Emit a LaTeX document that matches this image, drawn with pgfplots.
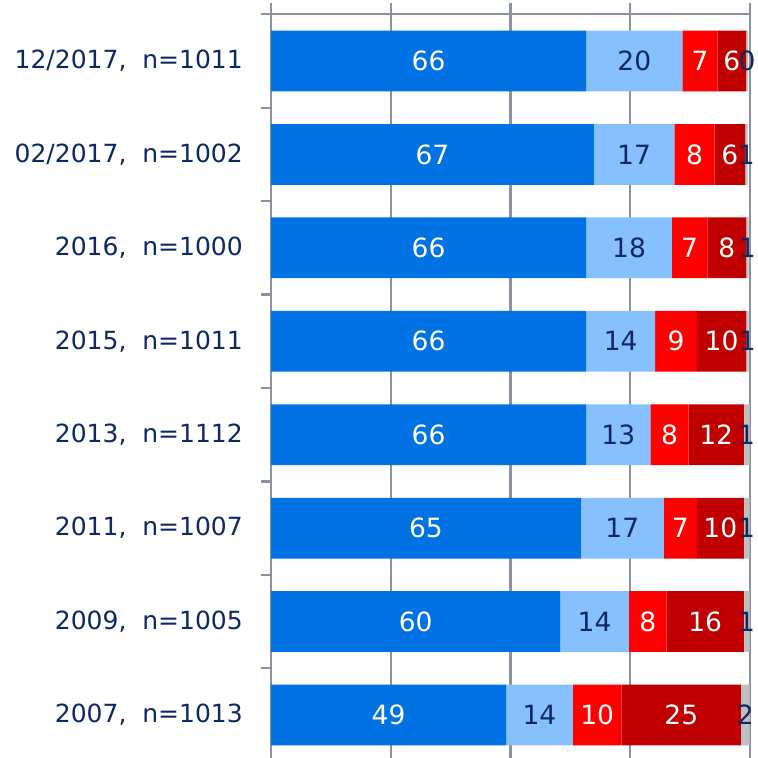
\documentclass[border=0pt]{standalone}
\usepackage{pgfplots}
\pgfplotsset{compat=1.18}
\usepackage{pgfplotstable}
\usepackage{fontspec}
\setmainfont{DejaVu Sans}
\definecolor{cBlue}{RGB}{0,114,227}
\definecolor{cLight}{RGB}{135,192,255}
\definecolor{cRed}{RGB}{255,0,0}
\definecolor{cDark}{RGB}{192,0,0}
\definecolor{cGray}{RGB}{191,191,191}
\definecolor{navy}{RGB}{14,40,100}
\definecolor{gridc}{RGB}{140,146,160}
\pgfplotstableread{
y a la b lb c lc d ld e le
7 65.8 66 20.1 20 7.3 7 6.0 6 0.4 0
6 67.4 67 16.8 17 8.4 8 6.4 6 0.5 1
5 65.8 66 17.9 18 7.4 7 8.1 8 0.5 1
4 65.8 66 14.4 14 8.7 9 10.3 10 0.5 1
3 65.8 66 13.4 13 8.0 8 11.5 12 1.2 1
2 64.7 65 17.3 17 6.9 7 9.8 10 1.2 1
1 60.4 60 14.3 14 7.9 8 16.1 16 1.2 1
0 49.1 49 13.9 14 10.2 10 24.9 25 1.8 2
}\data
\pgfplotstablecreatecol[create col/expr={\thisrow{a}/2}]{ca}\data
\pgfplotstablecreatecol[create col/expr={\thisrow{a}+\thisrow{b}/2}]{cb}\data
\pgfplotstablecreatecol[create col/expr={\thisrow{a}+\thisrow{b}+\thisrow{c}/2}]{cc}\data
\pgfplotstablecreatecol[create col/expr={\thisrow{a}+\thisrow{b}+\thisrow{c}+\thisrow{d}/2}]{cd}\data
\pgfplotstablecreatecol[create col/expr={\thisrow{a}+\thisrow{b}+\thisrow{c}+\thisrow{d}+\thisrow{e}/2}]{ce}\data
\pgfplotsset{
  common/.style={
    at={(271bp,-3.7bp)}, anchor=south west,
    scale only axis, width=479bp, height=758.6bp,
    xmin=0, xmax=100, ymin=-0.5, ymax=7.62,
    clip=false,
  },
  lab/.style={only marks, mark=none, nodes near coords, point meta=explicit symbolic,
    every node near coord/.style={anchor=center, inner sep=0pt, text=#1, font=\fontsize{26.5bp}{30bp}\selectfont}},
}
\begin{document}
\begin{tikzpicture}
\useasboundingbox (0,0) rectangle (758bp,758bp);
\begin{axis}[
  common,
  xbar stacked, bar width=0.65,
  separate axis lines,
  x axis line style={draw=none},
  y axis line style={draw=gridc, line width=2.4bp},
  xtick={25,50,75,100}, xticklabels={}, x tick style={draw=none},
  xmajorgrids, grid style={draw=gridc, line width=2.4bp},
  ytick={0,...,7}, ytick pos=left, major tick length=0pt,
  yticklabels={{2007,\ \ n=1013},{2009,\ \ n=1005},{2011,\ \ n=1007},{2013,\ \ n=1112},{2015,\ \ n=1011},{2016,\ \ n=1000},{02/2017,\ \ n=1002},{12/2017,\ \ n=1011}},
  yticklabel style={anchor=east, inner sep=0pt, xshift=-28bp, text=navy, font=\fontsize{25bp}{30bp}\selectfont},
  extra y ticks={-0.5,0.5,1.5,2.5,3.5,4.5,5.5,6.5,7.5},
  extra y tick labels={},
  extra y tick style={major tick length=10bp, tick align=outside, tick style={draw=gridc, line width=2.4bp}},
]
\addplot[fill=cBlue, draw=none] table[x=a, y=y] {\data};
\addplot[fill=cLight, draw=none] table[x=b, y=y] {\data};
\addplot[fill=cRed, draw=none] table[x=c, y=y] {\data};
\addplot[fill=cDark, draw=none] table[x=d, y=y] {\data};
\addplot[fill=cGray, draw=none] table[x=e, y=y] {\data};
\draw[gridc, line width=2.4bp] (axis cs:0,7.5) -- (axis cs:100,7.5);
\end{axis}
\begin{axis}[common, hide axis]
\addplot[lab=white] table[x=ca, y=y, meta=la] {\data};
\addplot[lab=navy] table[x=cb, y=y, meta=lb] {\data};
\addplot[lab=white] table[x=cc, y=y, meta=lc] {\data};
\addplot[lab=white] table[x=cd, y=y, meta=ld] {\data};
\addplot[lab=navy] table[x=ce, y=y, meta=le] {\data};
\end{axis}
\end{tikzpicture}
\end{document}
